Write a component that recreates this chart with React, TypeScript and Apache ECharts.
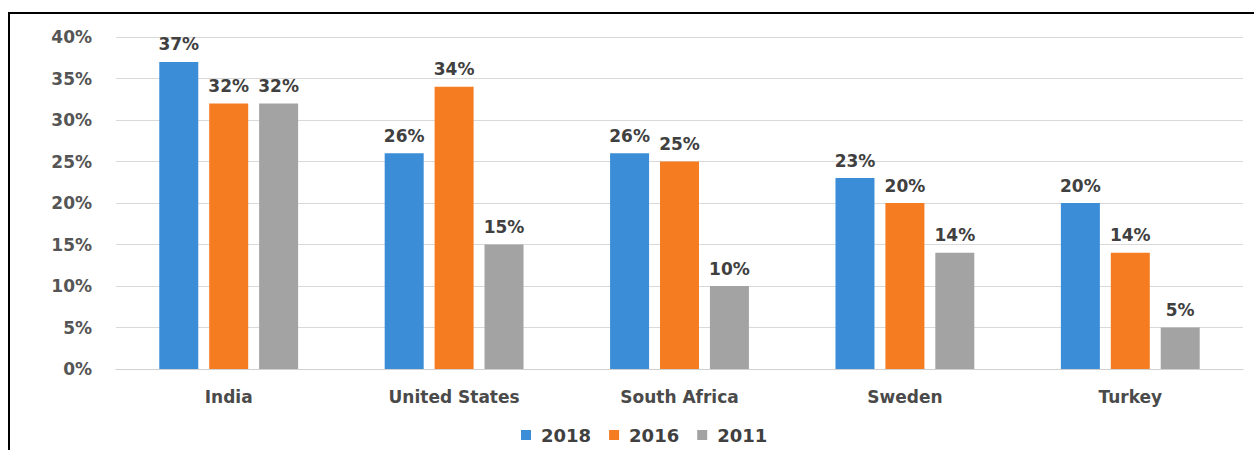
import React, { useEffect, useRef } from "react";
import * as echarts from "echarts";

const categories = ["India", "United States", "South Africa", "Sweden", "Turkey"];
const seriesNames = ["2018", "2016", "2011"];
const values2018 = [37, 26, 26, 23, 20];
const values2016 = [32, 34, 25, 20, 14];
const values2011 = [32, 15, 10, 14, 5];
const colors = ["#3A8DD6", "#F57C20", "#A3A3A3"];

export default function App() {
  const ref = useRef<HTMLDivElement>(null);
  useEffect(() => {
    if (!ref.current) return;
    const chart = echarts.init(ref.current, null, { renderer: "svg" });
    const data = [values2018, values2016, values2011];
    const font = "'DejaVu Sans', Verdana, sans-serif";
    chart.setOption({
      animation: false,
      backgroundColor: "#ffffff",
      textStyle: { fontFamily: font },
      graphic: [
        {
          type: "rect",
          shape: { x: 9, y: 13, width: 1400, height: 600 },
          style: { fill: "none", stroke: "#000", lineWidth: 2 },
          silent: true,
        },
      ],
      grid: { left: 116, right: 11, top: 37, bottom: 81, containLabel: false },
      legend: {
        bottom: 1,
        left: 516,
        itemWidth: 10,
        itemHeight: 10,
        itemGap: 18,
        icon: "rect",
        textStyle: {
          fontFamily: font,
          fontSize: 18,
          fontWeight: "bold",
          color: "#404040",
          padding: [0, 0, 0, 5],
        },
        data: seriesNames,
      },
      xAxis: {
        type: "category",
        data: categories,
        axisLine: { lineStyle: { color: "#d0d0d0", width: 1 } },
        axisTick: { show: false },
        axisLabel: { fontFamily: font, fontSize: 17, fontWeight: "bold", color: "#4a4a4a", margin: 19 },
      },
      yAxis: {
        type: "value",
        min: 0,
        max: 40,
        interval: 5,
        axisLine: { show: false },
        axisTick: { show: false },
        splitLine: { lineStyle: { color: "#d9d9d9", width: 1 } },
        axisLabel: {
          fontFamily: font,
          fontSize: 17,
          fontWeight: "bold",
          color: "#555555",
          margin: 24,
          formatter: "{value}%",
        },
      },
      series: seriesNames.map((name, i) => ({
        name,
        type: "bar",
        data: data[i],
        barWidth: 39,
        barGap: "28%",
        itemStyle: { color: colors[i] },
        label: {
          show: true,
          position: "top",
          distance: 9,
          formatter: "{c}%",
          fontFamily: font,
          fontSize: 17,
          fontWeight: "bold",
          color: "#404040",
        },
      })),
    });
    return () => chart.dispose();
  }, []);
  return (
    <div
      ref={ref}
      style={{ position: "absolute", left: 0, top: 0, width: 1254, height: 450 }}
    />
  );
}
